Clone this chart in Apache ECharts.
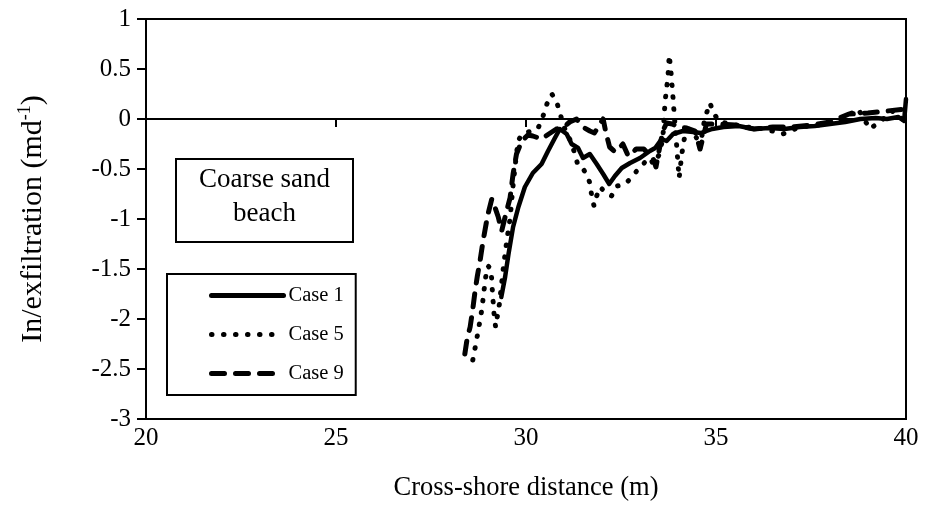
<!DOCTYPE html>
<html>
<head>
<meta charset="utf-8">
<script src="https://cdn.jsdelivr.net/npm/echarts@6/dist/echarts.min.js"></script>
<style>
  html, body { margin: 0; padding: 0; background: #fff; }
  #chart { width: 925px; height: 520px; }
</style>
</head>
<body>
<div id="chart"></div>
<script>
// Infiltration / exfiltration rate along the beach profile (m d^-1)
const seriesNames = ['Case 1', 'Case 5', 'Case 9'];

const case1X = [29.35, 29.45, 29.54, 29.66, 29.80, 29.97, 30.18, 30.41, 30.58, 30.76, 30.89, 30.94,
  31.07, 31.20, 31.37, 31.50, 31.68, 31.86, 32.03, 32.19, 32.34, 32.52, 32.74, 33.00, 33.26, 33.40,
  33.57, 33.70, 33.87, 34.13, 34.40, 34.60, 34.90, 35.20, 35.60, 36.00, 36.40, 36.80, 37.20, 37.60,
  38.00, 38.40, 38.80, 39.20, 39.50, 39.80, 39.95, 40.00];
const case1Y = [-1.78, -1.58, -1.35, -1.08, -0.88, -0.68, -0.54, -0.45, -0.32, -0.19, -0.10, -0.08,
  -0.15, -0.25, -0.29, -0.39, -0.35, -0.45, -0.55, -0.65, -0.57, -0.49, -0.44, -0.39, -0.32, -0.29,
  -0.20, -0.22, -0.15, -0.12, -0.13, -0.14, -0.10, -0.08, -0.07, -0.10, -0.09, -0.10, -0.08, -0.07,
  -0.05, -0.03, 0.00, 0.01, 0.00, 0.02, -0.02, 0.20];

const case5X = [28.60, 28.68, 28.76, 28.84, 28.90, 28.95, 29.00, 29.08, 29.12, 29.16, 29.20, 29.30,
  29.40, 29.50, 29.58, 29.65, 29.72, 29.79, 29.90, 30.05, 30.20, 30.32, 30.45, 30.55, 30.68, 30.80,
  30.90, 31.00, 31.15, 31.29, 31.37, 31.50, 31.60, 31.68, 31.73, 31.79, 31.86, 31.95, 32.08, 32.25,
  32.39, 32.55, 32.69, 32.87, 33.05, 33.26, 33.35, 33.50, 33.60, 33.66, 33.70, 33.74, 33.77, 33.82,
  33.87, 33.90, 33.93, 33.97, 34.00, 34.03, 34.10, 34.20, 34.30, 34.49, 34.58, 34.70, 34.84, 34.95,
  35.10, 35.40, 35.80, 36.30, 36.76, 37.20, 37.70, 38.20, 38.74, 39.05, 39.40, 39.66, 39.90, 40.00];
const case5Y = [-2.41, -2.25, -2.08, -1.90, -1.70, -1.55, -1.47, -1.50, -1.75, -1.95, -2.08, -1.85,
  -1.50, -1.20, -1.00, -0.70, -0.45, -0.22, -0.15, -0.13, -0.12, -0.09, 0.03, 0.15, 0.25, 0.18,
  0.05, -0.08, -0.20, -0.35, -0.47, -0.50, -0.55, -0.64, -0.77, -0.87, -0.77, -0.68, -0.73, -0.77,
  -0.67, -0.66, -0.62, -0.54, -0.46, -0.39, -0.45, -0.36, -0.20, 0.18, 0.30, 0.45, 0.64, 0.45,
  0.21, 0.05, -0.10, -0.29, -0.45, -0.59, -0.35, -0.12, -0.10, -0.19, -0.29, 0.00, 0.16, 0.05,
  -0.03, -0.05, -0.08, -0.10, -0.15, -0.08, -0.06, -0.03, 0.10, -0.10, 0.00, 0.08, 0.00, 0.05];

const case9X = [28.39, 28.45, 28.53, 28.60, 28.66, 28.72, 28.79, 28.87, 28.95, 29.00, 29.10, 29.18,
  29.27, 29.36, 29.45, 29.58, 29.66, 29.75, 29.89, 30.05, 30.18, 30.41, 30.60, 30.80, 31.00, 31.15,
  31.33, 31.50, 31.68, 31.80, 32.03, 32.10, 32.20, 32.35, 32.55, 32.69, 32.90, 33.10, 33.35, 33.42,
  33.60, 33.70, 33.85, 34.00, 34.23, 34.45, 34.58, 34.75, 35.00, 35.50, 36.00, 36.50, 37.00, 37.50,
  38.00, 38.50, 39.00, 39.50, 40.00];
const case9Y = [-2.35, -2.20, -2.08, -1.90, -1.72, -1.57, -1.42, -1.22, -1.05, -0.95, -0.80, -0.88,
  -0.98, -1.12, -0.98, -0.79, -0.55, -0.35, -0.22, -0.16, -0.17, -0.20, -0.15, -0.10, -0.08, -0.03,
  0.00, -0.08, -0.12, -0.14, 0.00, -0.13, -0.28, -0.33, -0.25, -0.37, -0.30, -0.30, -0.40, -0.48,
  -0.12, -0.04, -0.05, -0.08, -0.09, -0.12, -0.30, -0.05, -0.05, -0.06, -0.10, -0.08, -0.08, -0.06,
  -0.03, 0.05, 0.06, 0.08, 0.10];

const xMin = 20, xMax = 40, xStep = 5;
const yMin = -3, yMax = 1, yStep = 0.5;

const FONT = 'Liberation Serif';

function pairs(xs, ys) {
  return xs.map((x, i) => [x, ys[i]]);
}

const chart = echarts.init(document.getElementById('chart'), null, { renderer: 'canvas' });

const lineStyles = [
  { color: '#000', width: 4.5, type: 'solid', cap: 'round', join: 'round' },
  { color: '#000', width: 5, type: [0.5, 11.5], cap: 'round', join: 'round' },
  { color: '#000', width: 5, type: [13, 11], cap: 'round', join: 'round' }
];
const seriesData = [pairs(case1X, case1Y), pairs(case5X, case5Y), pairs(case9X, case9Y)];

chart.setOption({
  animation: false,
  backgroundColor: '#fff',
  textStyle: { fontFamily: FONT, color: '#000' },
  grid: {
    left: 146, right: 19, top: 19, bottom: 101,
    show: true, borderColor: '#000', borderWidth: 2, backgroundColor: '#fff'
  },
  xAxis: [
    {
      type: 'value', min: xMin, max: xMax, interval: xStep, position: 'bottom',
      axisLine: { show: false, onZero: false },
      axisTick: { show: false },
      splitLine: { show: false },
      axisLabel: { fontFamily: FONT, fontSize: 25, color: '#000', margin: 7 },
      name: 'Cross-shore distance (m)', nameLocation: 'middle', nameGap: 56,
      nameTextStyle: { fontFamily: FONT, fontSize: 26.5, color: '#000' }
    },
    {
      type: 'value', min: xMin, max: xMax, interval: xStep, position: 'bottom',
      axisLine: { show: true, onZero: true, lineStyle: { color: '#000', width: 2 } },
      axisTick: { show: true, inside: false, length: 8, lineStyle: { color: '#000', width: 2 } },
      axisLabel: { show: false },
      splitLine: { show: false }
    }
  ],
  yAxis: {
    type: 'value', min: yMin, max: yMax, interval: yStep,
    axisLine: { show: true, onZero: false, lineStyle: { color: '#000', width: 2 } },
    axisTick: { show: true, inside: false, length: 9, lineStyle: { color: '#000', width: 2 } },
    splitLine: { show: false },
    axisLabel: { fontFamily: FONT, fontSize: 25, color: '#000', margin: 15 },
    name: '{b|In/exfiltration (md}{s|-1}{b|)}', nameLocation: 'middle', nameGap: 96,
    nameTextStyle: {
      rich: {
        b: { fontFamily: FONT, fontSize: 30, color: '#000', lineHeight: 34 },
        s: { fontFamily: FONT, fontSize: 18, color: '#000', lineHeight: 34, verticalAlign: 'top' }
      }
    }
  },
  legend: {
    orient: 'vertical', left: 167, top: 274,
    data: seriesNames,
    backgroundColor: '#fff', borderColor: '#000', borderWidth: 2,
    padding: [11, 12, 11, 42],
    itemWidth: 72, itemHeight: 20, itemGap: 18,
    itemStyle: { color: 'transparent', borderWidth: 0 },
    lineStyle: { width: 5 },
    textStyle: { fontFamily: FONT, fontSize: 20.5, lineHeight: 20, color: '#000' }
  },
  graphic: [{
    type: 'group', left: 175, top: 158, z: 10,
    children: [
      { type: 'rect', shape: { x: 0, y: 0, width: 177, height: 83 },
        style: { fill: '#fff', stroke: '#000', lineWidth: 2 } },
      { type: 'text', x: 88.5, y: 38,
        style: { text: 'Coarse sand\nbeach', fontFamily: FONT, fontSize: 27, fill: '#000',
                 align: 'center', verticalAlign: 'middle', lineHeight: 34 } }
    ]
  }],
  series: seriesNames.map((name, i) => ({
    name: name,
    type: 'line',
    xAxisIndex: 0,
    data: seriesData[i],
    showSymbol: false,
    symbol: 'none',
    smooth: false,
    lineStyle: lineStyles[i],
    itemStyle: { color: '#000' },
    z: 3 - i
  }))
});
</script>
</body>
</html>
